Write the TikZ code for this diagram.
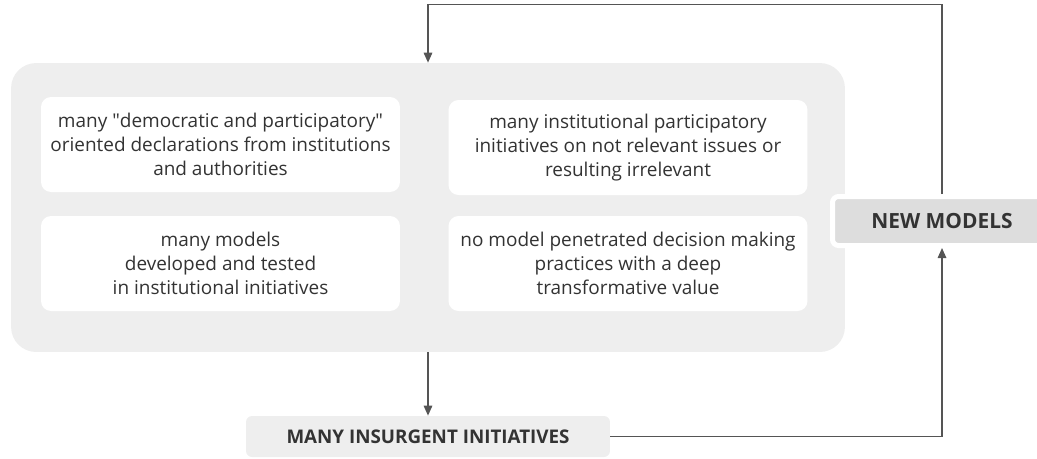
\documentclass[tikz,border=0pt]{standalone}
\usepackage{fontspec}
\setmainfont{Open Sans}
\usetikzlibrary{arrows.meta}

\definecolor{linegray}{HTML}{555555}
\definecolor{panelgray}{HTML}{EEEEEE}
\definecolor{tagdark}{HTML}{DDDDDD}
\definecolor{textgray}{HTML}{333333}

\begin{document}
\begin{tikzpicture}[x=0.02cm, y=-0.02cm,
		item/.style={fill=white, rounded corners=0.2cm, minimum width=7.18cm, minimum height=1.9cm, align=center, text=textgray, font=\fontsize{10.8}{13.6}\selectfont},
		tag/.style={rounded corners=0.12cm, text=textgray, font=\bfseries},
		link/.style={draw=linegray, line width=0.03cm, -{Triangle[length=0.2cm, width=0.17cm]}}]
		\useasboundingbox (0,0) rectangle (1037,458);
		
		% grey panel with the four statements
		\node[fill=panelgray, rounded corners=0.5cm, minimum width=16.68cm, minimum height=5.78cm] (panel) at (428,207.5) {};
		
		\node[item] (declarations) at (220.5,144.5) {many \textquotedbl democratic and participatory\textquotedbl\\oriented declarations from institutions\\and authorities};
		\node[item] (initiatives) at (628,147.5) {many institutional participatory\\initiatives on not relevant issues or\\resulting irrelevant};
		\node[item] (models) at (220.5,263.5) {many models\\developed and tested\\in institutional initiatives};
		\node[item] (nomodel) at (628,263.5) {no model penetrated decision making\\practices with a deep\\transformative value};
		
		\node[tag, fill=panelgray, minimum width=7.28cm, minimum height=0.82cm, font=\bfseries\fontsize{10.7}{12}\selectfont] (insurgent) at (428,436.5) {MANY INSURGENT INITIATIVES};
		\node[tag, fill=tagdark, draw=white, line width=0.1cm, minimum width=4.38cm, minimum height=0.98cm, font=\bfseries\fontsize{11.9}{13}\selectfont] (newmodels) at (942,221) {NEW MODELS};
		
		\draw[link] (newmodels.north) -- ++(0,-189.5) -| (panel.north);
		\draw[link] (panel.south) -- (insurgent.north);
		\draw[link] (insurgent.east) -| (newmodels.south);
	\end{tikzpicture}
\end{document}
